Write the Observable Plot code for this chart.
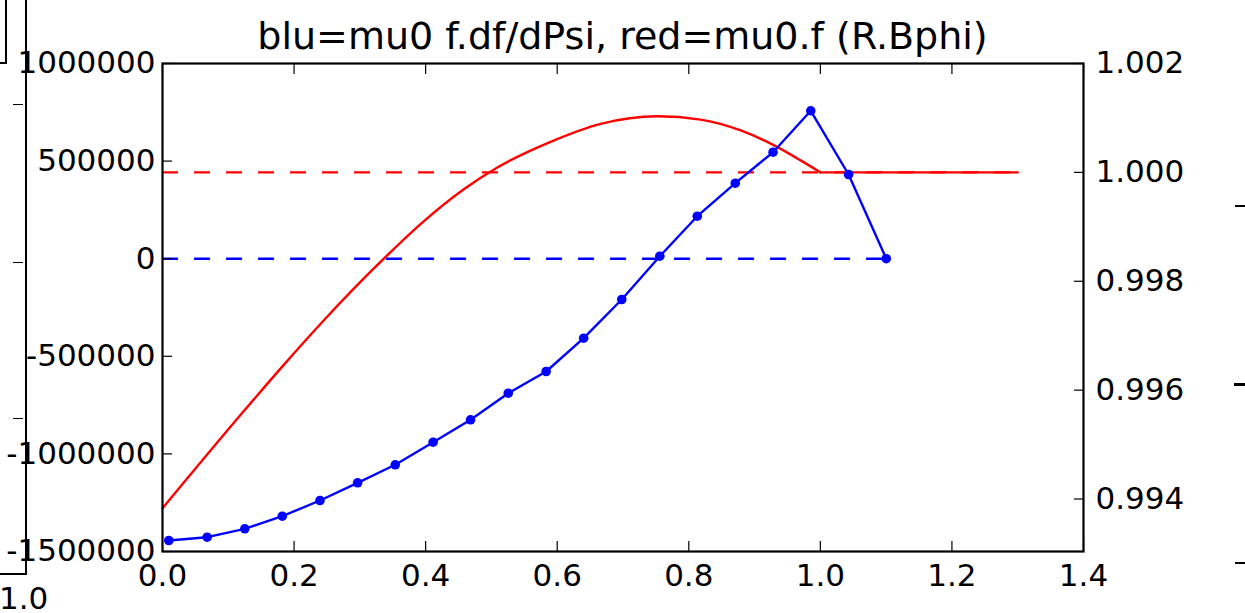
<!DOCTYPE html>
<html><head><meta charset="utf-8">
<script src="https://cdn.jsdelivr.net/npm/d3@7"></script>
<script src="https://cdn.jsdelivr.net/npm/@observablehq/plot@0.6"></script>
<style>
body{margin:0;background:#fff;font-family:"DejaVu Sans",sans-serif;}
#wrap{position:relative;width:1245px;height:613px;overflow:hidden;background:#fff;}
#chart{position:absolute;left:0;top:0;}
#title{position:absolute;left:62px;width:1121px;top:17px;text-align:center;font-size:38px;line-height:38px;color:#000;white-space:nowrap;}
.deco{position:absolute;background:#000;}
.box{position:absolute;border:2px solid #000;}
.lbl{position:absolute;font-size:31px;line-height:31px;color:#000;}
</style></head><body>
<div id="wrap">
  <div id="chart"></div>
  <div id="title"></div>
  <!-- fragments of neighbouring subplots visible at the edges -->
  <div class="box" style="left:-10px;top:-10px;width:33px;height:581px;"></div>
  <div class="box" style="left:-10px;top:-10px;width:13px;height:70px;"></div>
  <div class="deco" style="left:13px;top:104px;width:10px;height:1.3px;"></div>
  <div class="deco" style="left:13px;top:262px;width:10px;height:1.3px;"></div>
  <div class="deco" style="left:13px;top:418px;width:10px;height:1.3px;"></div>
  <div class="lbl" style="left:-1px;top:583px;">1.0</div>
  <div class="deco" style="left:1235px;top:204.5px;width:10px;height:2.6px;"></div>
  <div class="deco" style="left:1234px;top:383px;width:11px;height:2.6px;"></div>
  <div class="deco" style="left:1235px;top:561.5px;width:10px;height:2.6px;"></div>
</div>
<script>
// ---- data ----
const blueX = [0.0096, 0.0679, 0.1251, 0.1821, 0.2394, 0.2966, 0.3538, 0.4114, 0.4683, 0.5256,
               0.5832, 0.6402, 0.6981, 0.7560, 0.8129, 0.8707, 0.9281, 0.9854, 1.0429, 1.1002];
const blueY = [-1443700, -1426700, -1383700, -1319200, -1238700, -1148000, -1055800, -940000, -825300, -689000,
               -577900, -407300, -209000, 12800, 217700, 386800, 545600, 757700, 431400, 0];
// red curve (right axis), up to the edge at x = 1.0
const redCurveX = [0, 0.124, 0.184, 0.245, 0.336, 0.397, 0.458, 0.509, 0.590, 0.666, 0.752,
                   0.818, 0.879, 0.929, 0.970, 1.0];
const redCurveV = [0.99383, 0.99562, 0.99646, 0.99728, 0.99841, 0.99910, 0.99969, 1.00009, 1.00056, 1.00089, 1.00103,
                   1.00097, 1.00077, 1.00050, 1.00022, 1.0];
// red flat part beyond the edge
const redFlatX = [1.0, 1.3];
const redFlatV = [1.0, 1.0];
const blueRef = [0];          // left-axis reference level
const redRef = [1.0];         // right-axis reference level
const refEnd = [1.1, 1.3];    // x extents of blue / red reference lines
const xTicks = [0.0, 0.2, 0.4, 0.6, 0.8, 1.0, 1.2, 1.4];
const leftTicks = [1000000, 500000, 0, -500000, -1000000, -1500000];
const rightTicks = [1.002, 1.000, 0.998, 0.996, 0.994];
const leftDomain = [-1500000, 1000000];
const rightDomain = [0.993036, 1.002];
const title = "blu=mu0 f.df/dPsi, red=mu0.f (R.Bphi)";

// ---- mapping right axis onto left scale (twin axis) ----
const toLeft = v => leftDomain[0] + (v - rightDomain[0]) / (rightDomain[1] - rightDomain[0]) * (leftDomain[1] - leftDomain[0]);
const fromLeft = l => rightDomain[0] + (l - leftDomain[0]) / (leftDomain[1] - leftDomain[0]) * (rightDomain[1] - rightDomain[0]);

const blue = blueX.map((x, i) => ({x, y: blueY[i]}));
const redCurve = redCurveX.map((x, i) => ({x, y: toLeft(redCurveV[i])}));
const redFlat = redFlatX.map((x, i) => ({x, y: toLeft(redFlatV[i])}));
document.getElementById("title").textContent = title;

const chart = Plot.plot({
  width: 1245, height: 613,
  marginLeft: 162, marginRight: 162, marginTop: 63, marginBottom: 62,
  style: {fontFamily: "DejaVu Sans", fontSize: "31px", color: "#000", background: "transparent", overflow: "visible"},
  x: {domain: [0, 1.4]},
  y: {domain: leftDomain},
  marks: [
    Plot.ruleY(redRef.map(toLeft), {x1: 0, x2: refEnd[1], stroke: "red", strokeWidth: 2.4, strokeDasharray: "16,16"}),
    Plot.ruleY(blueRef, {x1: 0, x2: refEnd[0], stroke: "blue", strokeWidth: 2.4, strokeDasharray: "16,16"}),
    Plot.line(redCurve, {x: "x", y: "y", stroke: "red", strokeWidth: 2.4, curve: "monotone-x"}),
    Plot.line(redFlat, {x: "x", y: "y", stroke: "red", strokeWidth: 2.4}),
    Plot.line(blue, {x: "x", y: "y", stroke: "blue", strokeWidth: 2.4}),
    Plot.dot(blue, {x: "x", y: "y", r: 4.8, fill: "blue", stroke: "none"}),
    Plot.frame({stroke: "black", strokeWidth: 2.2}),
    Plot.axisX(xTicks, {anchor: "bottom", label: null, tickSize: 0, tickPadding: 12, tickFormat: d => d.toFixed(1)}),
    Plot.axisX(xTicks, {anchor: "bottom", label: null, tickSize: -10, strokeWidth: 1.2, fill: "none"}),
    Plot.axisX(xTicks, {anchor: "top", label: null, tickSize: -10, strokeWidth: 1.2, fill: "none"}),
    Plot.axisY(leftTicks, {anchor: "left", label: null, tickSize: 0, tickPadding: 7, tickFormat: d => String(d)}),
    Plot.axisY(leftTicks, {anchor: "left", label: null, tickSize: -10, strokeWidth: 1.2, fill: "none"}),
    Plot.axisY(rightTicks.map(toLeft), {anchor: "right", label: null, tickSize: 0, tickPadding: 12, tickFormat: d => fromLeft(d).toFixed(3)}),
    Plot.axisY(rightTicks.map(toLeft), {anchor: "right", label: null, tickSize: -10, strokeWidth: 1.2, fill: "none"})
  ]
});
document.getElementById("chart").appendChild(chart);
</script>
</body></html>
